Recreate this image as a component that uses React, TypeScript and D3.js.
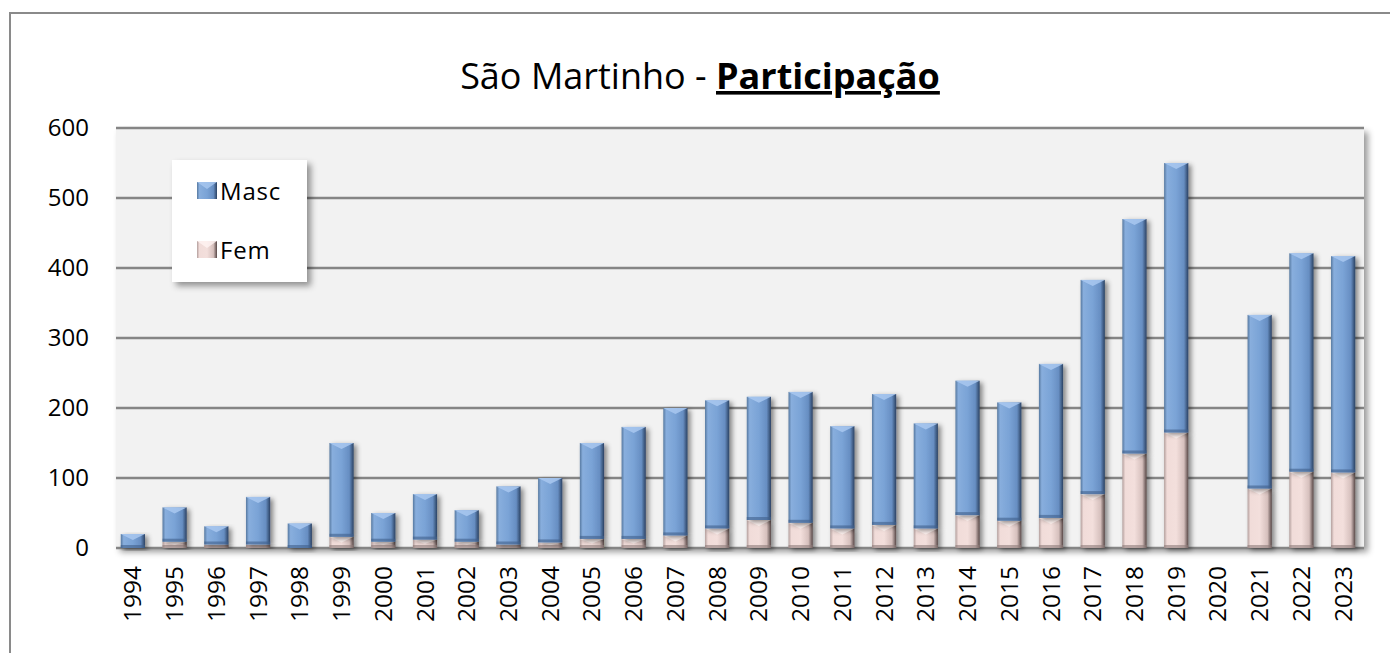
import React from "react";
import * as d3 from "d3";

const years = ["1994","1995","1996","1997","1998","1999","2000","2001","2002","2003","2004","2005","2006","2007","2008","2009","2010","2011","2012","2013","2014","2015","2016","2017","2018","2019","2020","2021","2022","2023"];
const fem = [0,9,5,5,0,16,9,12,9,5,8,13,13,18,28,40,36,28,33,28,47,39,43,77,135,165,0,85,109,108];
const masc = [20,49,26,68,35,134,41,65,45,83,92,137,160,182,183,176,187,146,187,150,192,169,220,306,335,385,0,248,312,309];
const yTicks = [0,100,200,300,400,500,600];
const seriesNames = ["Masc","Fem"];

const W = 1390, H = 653;
const plot = { left: 116, right: 1364, top: 128, bottom: 548 };
const FONT = "'Open Sans', sans-serif";

export default function App() {
  const x = d3.scaleBand<string>().domain(years).range([112, plot.right]).paddingInner(0.42).paddingOuter(0.21);
  const y = d3.scaleLinear().domain([0, 600]).range([plot.bottom, plot.top]);
  const stackData = years.map((yr, i) => ({ year: yr, Fem: fem[i], Masc: masc[i] }));
  const stacked = d3.stack<any>().keys(["Fem", "Masc"])(stackData);
  const bw = x.bandwidth();

  const bar = (key: string, x0: number, y0: number, y1: number, idx: number) => {
    const h = y0 - y1;
    if (h <= 0.5) return null;
    const isM = key === "Masc";
    const bev = Math.min(6, h / 2);
    const light = isM ? "#a9c8f0" : "#fff4f2";
    return (
      <g key={key + idx}>
        <rect x={x0} y={y1} width={bw} height={h} fill={`url(#${isM ? "gM" : "gF"})`} filter="url(#barShadow)" />
        <polygon points={`${x0},${y1} ${x0 + bw},${y1} ${x0 + bw / 2},${y1 + bev}`} fill={light} opacity={0.85} />
        <rect x={x0} y={y0 - 3} width={bw} height={3} fill={isM ? "#3f5f8a" : "#8d7c7a"} opacity={0.6} />
      </g>
    );
  };

  return (
    <svg width={W} height={H} style={{ position: "absolute", left: 0, top: 0, background: "#fff" }}>
      <defs>
        <linearGradient id="gM" x1="0" x2="1" y1="0" y2="0">
          <stop offset="0%" stopColor="#56789f" />
          <stop offset="12%" stopColor="#88aedd" />
          <stop offset="50%" stopColor="#7aa3d6" />
          <stop offset="82%" stopColor="#678ec2" />
          <stop offset="100%" stopColor="#2b4263" />
        </linearGradient>
        <linearGradient id="gF" x1="0" x2="1" y1="0" y2="0">
          <stop offset="0%" stopColor="#b29e9c" />
          <stop offset="12%" stopColor="#f1dcd9" />
          <stop offset="50%" stopColor="#f3dfdc" />
          <stop offset="82%" stopColor="#d6c0bd" />
          <stop offset="100%" stopColor="#574746" />
        </linearGradient>
        <filter id="barShadow" x="-30%" y="-10%" width="170%" height="130%">
          <feDropShadow dx="3" dy="2" stdDeviation="2.5" floodColor="#000" floodOpacity="0.45" />
        </filter>
        <filter id="boxShadow" x="-10%" y="-10%" width="130%" height="130%">
          <feDropShadow dx="4" dy="4" stdDeviation="3" floodColor="#000" floodOpacity="0.4" />
        </filter>
      </defs>

      {/* outer chart border */}
      <rect x={10} y={13} width={1400} height={700} fill="#fff" stroke="#8a8a8a" strokeWidth={2} />

      {/* title */}
      <text x={700} y={89} textAnchor="middle" fontFamily={FONT} fontSize={36} fill="#000">
        <tspan>São Martinho - </tspan>
        <tspan fontWeight="bold" textDecoration="underline">Participação</tspan>
      </text>

      {/* plot area */}
      <rect x={plot.left} y={plot.top} width={plot.right - plot.left} height={plot.bottom - plot.top} fill="#f2f2f2" filter="url(#boxShadow)" />

      {/* gridlines */}
      {yTicks.map((t) => (
        <line key={t} x1={plot.left} x2={plot.right} y1={y(t)} y2={y(t)} stroke="#858585" strokeWidth={2.5} />
      ))}

      {/* y labels */}
      {yTicks.map((t) => (
        <text key={"l" + t} x={89} y={y(t) + 8} textAnchor="end" fontFamily={FONT} fontSize={24} fill="#000">{t}</text>
      ))}

      {/* bars */}
      {stacked.map((s) => (
        <g key={s.key}>
          {s.map((d, i) => bar(s.key, x(years[i])!, y(d[0]), y(d[1]), i))}
        </g>
      ))}

      {/* x labels */}
      {years.map((yr) => {
        const cx = x(yr)! + bw / 2 + 8.5;
        const ty = 566;
        return (
          <text key={"x" + yr} transform={`translate(${cx},${ty}) rotate(-90)`} textAnchor="end" fontFamily={FONT} fontSize={24.5} fill="#000">{yr}</text>
        );
      })}

      {/* legend */}
      <rect x={172} y={160} width={135} height={122} fill="#fff" filter="url(#boxShadow)" />
      {seriesNames.map((n, i) => {
        const ly = 191 + i * 59;
        const isM = n === "Masc";
        return (
          <g key={n}>
            <rect x={197} y={ly - 9} width={20} height={17} fill={`url(#${isM ? "gM" : "gF"})`} />
            <polygon points={`${197},${ly - 9} ${217},${ly - 9} ${207},${ly - 2}`} fill={isM ? "#a9c8f0" : "#fff4f2"} opacity={0.8} />
            <text x={220} y={ly + 9} fontFamily={FONT} fontSize={24} fill="#000" letterSpacing={0.8}>{n}</text>
          </g>
        );
      })}
    </svg>
  );
}
